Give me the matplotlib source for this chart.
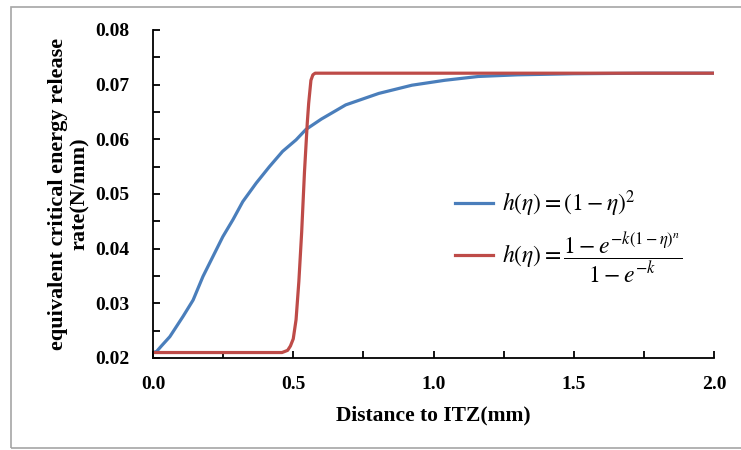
import numpy as np
import matplotlib
matplotlib.use("Agg")
import matplotlib.pyplot as plt
from matplotlib.ticker import MultipleLocator, FormatStrFormatter
from matplotlib.patches import Rectangle

plt.rcParams['mathtext.fontset'] = 'stix'
plt.rcParams['font.family'] = ['Liberation Serif', 'DejaVu Serif']

blue_x = [0, 0.013, 0.03, 0.06, 0.107, 0.143, 0.178, 0.214, 0.249, 0.285, 0.32, 0.368, 0.415,
          0.462, 0.51, 0.545, 0.6, 0.687, 0.805, 0.923, 1.04, 1.16, 1.3, 1.5, 1.75, 2.0]
blue_y = [0.021, 0.0212, 0.0222, 0.0239, 0.0276, 0.0306, 0.0349, 0.0386, 0.0422, 0.0453, 0.0486,
          0.0520, 0.0550, 0.0578, 0.0599, 0.0618, 0.0637, 0.0663, 0.0684, 0.0699, 0.0708, 0.0715,
          0.0718, 0.0720, 0.0721, 0.0721]

red_x = [0, 0.46, 0.48, 0.49, 0.50, 0.51, 0.52, 0.53, 0.54, 0.55, 0.555, 0.563, 0.57, 0.578, 2.0]
red_y = [0.021, 0.021, 0.0214, 0.0222, 0.0235, 0.027, 0.034, 0.043, 0.054, 0.063, 0.0666, 0.0708,
         0.0718, 0.0721, 0.0721]

labels = [r'$h(\eta)=(1-\eta)^2$',
          r'$h(\eta)=\dfrac{1-e^{-k(1-\eta)^n}}{1-e^{-k}}$']

fig = plt.figure(figsize=(7.41, 4.5), dpi=100)
fig.patches.append(Rectangle((11/741, 1 - 448/450), 1.2, 441/450, transform=fig.transFigure,
                             fill=False, edgecolor='#a6a6a6', linewidth=1.2))
ax = fig.add_axes([153/741, 1 - 358/450, (714 - 153)/741, (358 - 30)/450])

ax.plot(blue_x, blue_y, color='#4a7ebb', lw=2.3, label=labels[0])
ax.plot(red_x, red_y, color='#be4b48', lw=2.3, label=labels[1])

ax.set_xlim(0, 2.0)
ax.set_ylim(0.02, 0.08)
ax.xaxis.set_major_locator(MultipleLocator(0.5))
ax.xaxis.set_minor_locator(MultipleLocator(0.25))
ax.yaxis.set_major_locator(MultipleLocator(0.01))
ax.yaxis.set_minor_locator(MultipleLocator(0.005))
ax.xaxis.set_major_formatter(FormatStrFormatter('%.1f'))
ax.yaxis.set_major_formatter(FormatStrFormatter('%.2f'))
ax.tick_params(which='both', direction='in', length=5, width=1.3, labelsize=14)
ax.tick_params(axis='x', which='both', pad=13)
ax.tick_params(axis='y', which='both', pad=17)
for lab in ax.get_xticklabels() + ax.get_yticklabels():
    lab.set_fontweight('bold')
for s in ['top', 'right']:
    ax.spines[s].set_visible(False)
for s in ['left', 'bottom']:
    ax.spines[s].set_linewidth(1.3)

ax.set_xlabel('Distance to ITZ(mm)', fontsize=15.5, fontweight='bold', labelpad=9)
ax.set_ylabel('equivalent critical energy release\nrate(N/mm)', fontsize=16,
              fontweight='bold', labelpad=4, linespacing=1.1)

ax.legend(loc='center left', bbox_to_anchor=(0.5, 0.37), frameon=False, fontsize=17,
          handlelength=1.6, handletextpad=0.4, labelspacing=0.5)

fig.savefig('out.png', dpi=100)
